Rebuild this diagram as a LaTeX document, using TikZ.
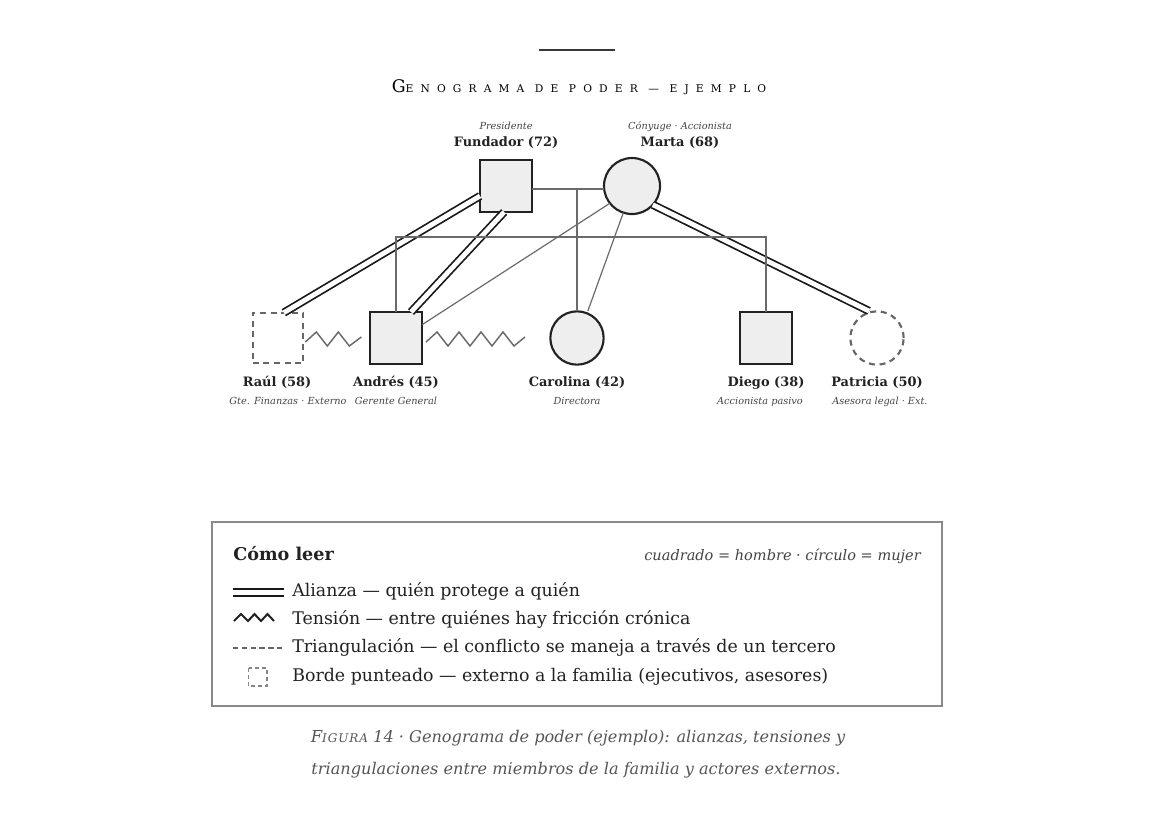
\documentclass[tikz,border=0pt]{standalone}
\usepackage{fontspec}
\setmainfont{DejaVu Serif}
\newfontfamily\spacedfont{DejaVu Serif}[LetterSpace=67]
\newfontfamily\capfont{DejaVu Serif}[LetterSpace=8]
\usetikzlibrary{calc}
\definecolor{ink}{HTML}{222222}
\definecolor{nodefill}{HTML}{EEEEEE}
\definecolor{extgray}{HTML}{666666}
\definecolor{famline}{HTML}{6A6A6A}
\definecolor{boxgray}{HTML}{8A8A8A}
\definecolor{roletext}{HTML}{444444}
\definecolor{captext}{HTML}{555555}
\begin{document}
\begin{tikzpicture}[x=0.75pt,y=-0.75pt,
  person/.style={line width=1.6pt, inner sep=0pt, outer sep=0pt},
  male/.style={person, rectangle, draw=ink, fill=nodefill, minimum size=39pt},
  female/.style={person, circle, draw=ink, fill=nodefill, minimum size=42pt},
  extmale/.style={person, rectangle, draw=extgray, dash pattern=on 4.5pt off 3.5pt, minimum size=38pt},
  extfemale/.style={person, circle, draw=extgray, dash pattern=on 4.5pt off 3.5pt, minimum size=40pt},
  namelbl/.style={font=\bfseries\fontsize{9.7}{11}\selectfont, text=ink, inner sep=0pt, anchor=base},
  rolelbl/.style={font=\itshape\fontsize{7.3}{8}\selectfont, text=roletext, inner sep=0pt, anchor=base},
  alliance/.style={draw=black!90, line width=1.3pt, double=white, double distance=3.6pt},
  famrel/.style={draw=famline, line width=1.1pt},
  triang/.style={draw=famline, line width=0.9pt},
  tensionline/.style={draw=famline, line width=1.1pt, line join=miter},
  legtext/.style={font=\fontsize{13.05}{15}\selectfont, text=ink, inner sep=0pt, anchor=base west},
  captxt/.style={font=\itshape\fontsize{12.1}{14}\selectfont, text=captext, inner sep=0pt, anchor=base}
]
\fill[white] (0,0) rectangle (1153,819);
\useasboundingbox (0,0) rectangle (1153,819);

% top rule and title
\draw[ink!90!white, line width=1.5pt] (539,50) -- (615,50);
\node[inner sep=0pt, anchor=base, text=black] (title) at (579,92)
  {\spacedfont\fontsize{13}{15}\selectfont G\fontsize{8}{15}\selectfont ENOGRAMA DE PODER — EJEMPLO};

% persons
\node[male] (fund) at (506,186) {};
\node[female] (marta) at (632,186) {};
\node[extmale] (raul) at (278,338) {};
\node[male] (andres) at (396,338) {};
\node[female, minimum size=40pt] (caro) at (577,338) {};
\node[male] (diego) at (766,338) {};
\node[extfemale] (patr) at (877,338) {};

% top labels
\node[rolelbl] (fundR) at (506,129) {Presidente};
\node[namelbl] (fundN) at (506,146) {Fundador (72)};
\node[rolelbl] (martaR) at (680,129) {Cónyuge · Accionista};
\node[namelbl] (martaN) at (680,146) {Marta (68)};

% bottom labels
\node[namelbl] (raulN) at (277,386) {Raúl (58)};
\node[namelbl] (andresN) at (396,386) {Andrés (45)};
\node[namelbl] (caroN) at (577,386) {Carolina (42)};
\node[namelbl] (diegoN) at (766,386) {Diego (38)};
\node[namelbl] (patrN) at (877,386) {Patricia (50)};
\node[rolelbl] (raulR) at (288,404) {Gte. Finanzas · Externo};
\node[rolelbl] (andresR) at (396,404) {Gerente General};
\node[rolelbl] (caroR) at (577,404) {Directora};
\node[rolelbl] (diegoR) at (760,404) {Accionista pasivo};
\node[rolelbl] (patrR) at (880,404) {Asesora legal · Ext.};

% alliances
\draw[alliance] (fund.201) -- (raul.77);
\draw[alliance] (fund.266) -- (andres.60);
\draw[alliance] (marta.318) -- ([xshift=-0.5pt,yshift=1pt]patr.106);

% family structure
\coordinate (mar) at (577,189);
\coordinate (sib) at (577,237);
\draw[famrel] (fund.east |- mar) -- (marta.west |- mar);
\draw[famrel] (mar) -- (caro.north);
\draw[famrel] (andres.north) |- (sib) -| (diego.north);

% triangulation lines
\draw[triang] (marta.218) -- (andres.27);
\draw[triang] (marta.252) -- ([yshift=2pt]caro.66);

% tensions
\draw[tensionline] ($(raul.east)+(2,4)$) -- ++(11,-10) -- ++(11,14) -- ++(11,-14) -- ++(11,14) -- ++(12,-9);
\draw[tensionline] ($(andres.east)+(4,4)$) -- ++(11,-10) -- ++(11,14) -- ++(11,-14) -- ++(11,14) -- ++(11,-14) -- ++(11,14) -- ++(11,-14) -- ++(11,14) -- ++(11,-9);

% legend box
\node[draw=boxgray, line width=1.5pt, minimum width=547.5pt, minimum height=138pt, inner sep=0pt] (leg) at (577,614) {};
\node[font=\bfseries\fontsize{13.2}{15}\selectfont, text=ink, inner sep=0pt, anchor=base west] (legT) at (233,560) {Cómo leer};
\node[font=\itshape\fontsize{10.9}{13}\selectfont, text=roletext, inner sep=0pt, anchor=base east] (legR) at (921,560) {cuadrado = hombre · círculo = mujer};

\draw[draw=black!90, line width=1.2pt, double=white, double distance=3.8pt] (233,592.5) -- (284,592.5);
\node[legtext] (l1) at (292,596) {Alianza — quién protege a quién};
\draw[draw=ink, line width=1.5pt, line join=miter] (234,621) -- (241,614) -- (248,621) -- (254.5,614) -- (261,621) -- (267.5,614) -- (274,621);
\node[legtext] (l2) at (292,624) {Tensión — entre quiénes hay fricción crónica};
\draw[draw=extgray, line width=0.9pt, dash pattern=on 4pt off 2.6pt] (233,648) -- (285,648);
\node[legtext] (l3) at (292,652) {Triangulación — el conflicto se maneja a través de un tercero};
\draw[draw=extgray!80!white, line width=0.8pt, dash pattern=on 3pt off 2.2pt] (248.5,668) rectangle (267,686);
\node[legtext] (l4) at (292,681) {Borde punteado — externo a la familia (ejecutivos, asesores)};

% caption
\node[captxt] (cap1) at (578,742) {{\capfont\itshape\fontsize{12.3}{14}\selectfont F\fontsize{9}{14}\selectfont IGURA} 14 · Genograma de poder (ejemplo): alianzas, tensiones y};
\node[captxt] (cap2) at (576,774) {triangulaciones entre miembros de la familia y actores externos.};
\end{tikzpicture}
\end{document}
